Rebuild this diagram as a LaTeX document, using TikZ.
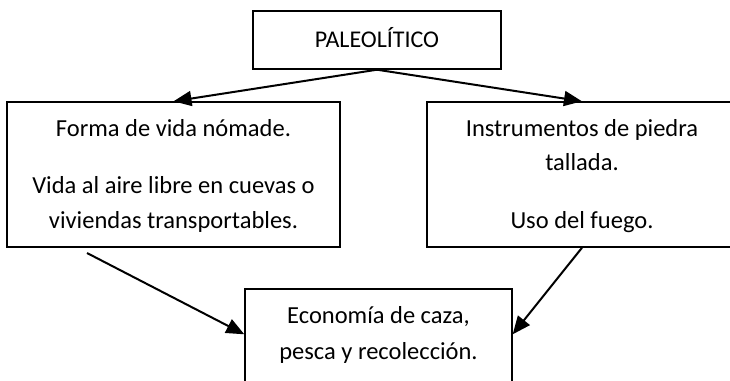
\documentclass[tikz,border=0pt]{standalone}
\usepackage{fontspec}
\setmainfont{Carlito}
\usetikzlibrary{arrows.meta}
\begin{document}
\begin{tikzpicture}[x=1pt,y=-1pt,
  box/.style={draw, line width=1.4pt, inner sep=0pt},
  txt/.style={anchor=base, inner sep=0pt, font=\fontsize{24.5}{35}\selectfont},
  arr/.style={line width=2pt, -{Triangle[length=18pt,width=15pt]}}]
\useasboundingbox (0,0) rectangle (730,380);
\clip (0,0) rectangle (730,380);
% boxes
\node[box, minimum width=248pt, minimum height=58pt] (top) at (377,40) {};
\node[box, minimum width=333pt, minimum height=145pt] (left) at (173.5,174.5) {};
\node[box, minimum width=310pt, minimum height=145pt] (right) at (582,174.5) {};
\node[box, minimum width=267pt, minimum height=111pt] (bot) at (378.5,344.5) {};
% texts
\node[txt, font=\fontsize{24}{35}\selectfont] (t0) at (377,47) {PALEOLÍTICO};
\node[txt] (l1) at (173.5,136) {Forma de vida nómade.};
\node[txt] (l2) at (173.5,193) {Vida al aire libre en cuevas o};
\node[txt] (l3) at (173.5,228) {viviendas transportables.};
\node[txt] (r1) at (582,136) {Instrumentos de piedra};
\node[txt] (r2) at (582,170) {tallada.};
\node[txt] (r3) at (582,228) {Uso del fuego.};
\node[txt] (b1) at (378.5,323) {Economía de caza,};
\node[txt] (b2) at (378.5,359) {pesca y recolección.};
% connectors
\draw[arr] (top.south) -- (left.north);
\draw[arr] (top.south) -- (right.north);
\coordinate (s1) at (87,253);
\coordinate (e1) at ([yshift=-46pt]bot.north west);
\coordinate (e2) at ([yshift=-46pt]bot.north east);
\draw[arr] (s1) -- (e1);
\draw[arr] (right.south) -- (e2);
\end{tikzpicture}
\end{document}
